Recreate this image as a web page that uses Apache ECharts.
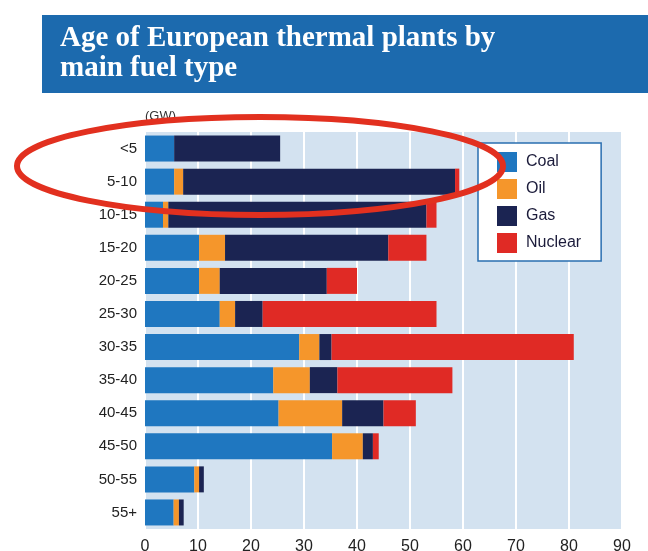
<!DOCTYPE html>
<html>
<head>
<meta charset="utf-8">
<script src="https://cdn.jsdelivr.net/npm/echarts@6/dist/echarts.min.js"></script>
<style>
  html, body { margin: 0; padding: 0; background: #fff; }
  #chart { width: 648px; height: 551px; }
</style>
</head>
<body>
<div id="chart"></div>
<script>
// age bands (years)
const ageBands = ['<5', '5-10', '10-15', '15-20', '20-25', '25-30', '30-35', '35-40', '40-45', '45-50', '50-55', '55+'];
// capacity by fuel, GW
const coal = [5.5, 5.5, 3.4, 10.2, 10.2, 14.1, 29.1, 24.2, 25.2, 35.3, 9.3, 5.4];
const oil = [0, 1.7, 1.0, 4.9, 3.9, 2.9, 3.8, 6.9, 12.0, 5.8, 0.9, 1.0];
const gas = [20.0, 51.3, 48.7, 30.8, 20.2, 5.2, 2.3, 5.2, 7.8, 1.9, 0.9, 0.9];
const nuclear = [0, 0.8, 1.9, 7.2, 5.7, 32.8, 45.7, 21.7, 6.1, 1.1, 0, 0];
const xTicks = [0, 10, 20, 30, 40, 50, 60, 70, 80, 90];

const chart = echarts.init(document.getElementById('chart'));

function bar(name, data, color) {
  return {
    name: name,
    type: 'bar',
    stack: 'total',
    data: data,
    barWidth: 26,
    itemStyle: { color: color },
    emphasis: { disabled: true },
  };
}

const option = {
  animation: false,
  backgroundColor: '#fff',
  graphic: [
    {
      type: 'rect',
      shape: { x: 42, y: 15, width: 606, height: 78 },
      style: { fill: '#1c6aae' },
      z: 1,
    },
    {
      type: 'text',
      left: 60,
      top: 24,
      style: {
        text: 'Age of European thermal plants by\nmain fuel type',
        fill: '#fff',
        font: 'bold 29px "Liberation Serif", serif',
        lineHeight: 30,
      },
      z: 2,
    },
    {
      type: 'text',
      left: 145,
      top: 110,
      style: { text: '(GW)', fill: '#333', font: '13px "Liberation Sans", Arial, sans-serif' },
    },
    {
      type: 'ellipse',
      shape: { cx: 260, cy: 166, rx: 243, ry: 49 },
      style: { fill: null, stroke: '#e2301f', lineWidth: 6 },
      z: 100,
    },
  ],
  grid: {
    left: 145,
    top: 132,
    right: 26,
    bottom: 22,
    outerBoundsMode: 'none',
    show: true,
    backgroundColor: '#d3e2f0',
    borderWidth: 0,
  },
  legend: {
    orient: 'vertical',
    left: 478,
    top: 143,
    width: 133,
    padding: [9, 20, 8, 19],
    itemWidth: 20,
    itemHeight: 20,
    itemGap: 7,
    backgroundColor: '#fff',
    borderColor: '#2a6fb0',
    borderWidth: 1.5,
    borderRadius: 0,
    icon: 'rect',
    selectedMode: false,
    textStyle: {
      fontFamily: '"Liberation Sans", Arial, sans-serif',
      fontSize: 16,
      color: '#1b1b3a',
      padding: [0, 0, 0, 4],
    },
    data: ['Coal', 'Oil', 'Gas', 'Nuclear'],
  },
  xAxis: {
    type: 'value',
    min: xTicks[0],
    max: xTicks[xTicks.length - 1],
    interval: 10,
    axisLine: { show: false },
    axisTick: { show: false },
    splitLine: { show: true, lineStyle: { color: '#fff', width: 2 } },
    axisLabel: {
      margin: 10,
      fontFamily: '"Liberation Sans", Arial, sans-serif',
      fontSize: 16,
      color: '#222',
    },
  },
  yAxis: {
    type: 'category',
    data: ageBands,
    inverse: true,
    axisLine: { show: false },
    axisTick: { show: false },
    axisLabel: {
      margin: 8,
      fontFamily: '"Liberation Sans", Arial, sans-serif',
      fontSize: 15,
      color: '#222',
    },
  },
  series: [
    bar('Coal', coal, '#1f77c0'),
    bar('Oil', oil, '#f5962b'),
    bar('Gas', gas, '#1b2452'),
    bar('Nuclear', nuclear, '#e02a25'),
  ],
};

chart.setOption(option);
</script>
</body>
</html>
